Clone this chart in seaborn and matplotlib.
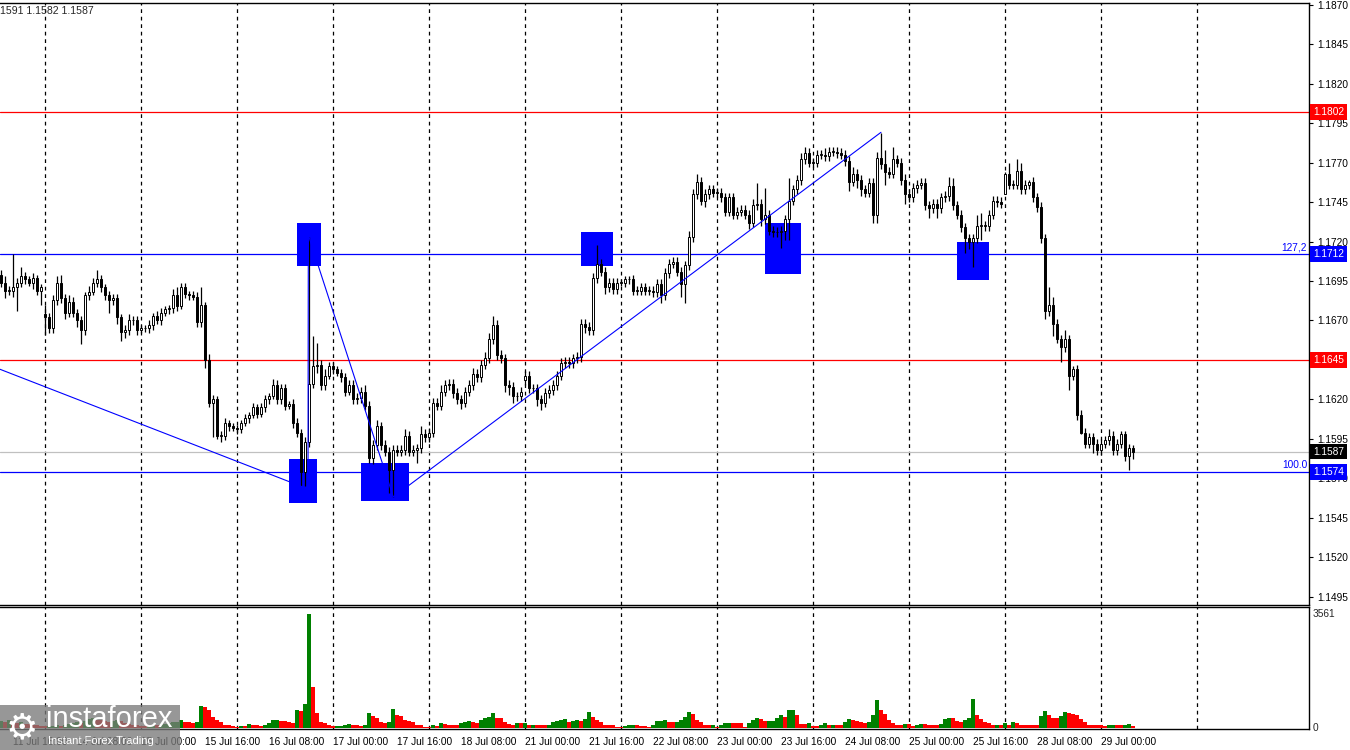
import numpy as np
import pandas as pd
import matplotlib
matplotlib.use("Agg")
import matplotlib.pyplot as plt
import matplotlib.transforms as mtransforms
from matplotlib.patches import Rectangle
import seaborn as sns

# ---------------- data (EUR/USD H1) ----------------
days = ["11 Jul", "14 Jul", "15 Jul", "16 Jul", "17 Jul", "18 Jul", "21 Jul",
        "22 Jul", "23 Jul", "24 Jul", "25 Jul", "28 Jul", "29 Jul"]
first_hour = {"11 Jul": 13}
first_open = 1.1699
gap_opens = {"14 Jul": 1.1674, "21 Jul": 1.1632, "28 Jul": 1.1750}

close_jul11 = [1.1694, 1.1689, 1.1689, 1.1691, 1.1694, 1.1698, 1.1696, 1.1694, 1.1697, 1.1689, 1.1691]
close_jul14 = [1.1672, 1.1665, 1.1683, 1.1694, 1.1684, 1.1675, 1.1682, 1.1675, 1.1670, 1.1664, 1.1686, 1.1688,
               1.1694, 1.1696, 1.1691, 1.1686, 1.1683, 1.1684, 1.1672, 1.1663, 1.1664, 1.1670, 1.1670, 1.1664]
close_jul15 = [1.1665, 1.1665, 1.1667, 1.1673, 1.1670, 1.1675, 1.1677, 1.1678, 1.1686, 1.1679, 1.1691, 1.1687,
               1.1686, 1.1685, 1.1669, 1.1680, 1.1645, 1.1618, 1.1620, 1.1597, 1.1597, 1.1605, 1.1603, 1.1602]
close_jul16 = [1.1601, 1.1605, 1.1608, 1.1610, 1.1615, 1.1611, 1.1615, 1.1620, 1.1622, 1.1629, 1.1620, 1.1627,
               1.1616, 1.1617, 1.1605, 1.1599, 1.1574, 1.1593, 1.1630, 1.1641, 1.1642, 1.1629, 1.1635, 1.1641]
close_jul17 = [1.1639, 1.1637, 1.1634, 1.1625, 1.1629, 1.1620, 1.1621, 1.1625, 1.1616, 1.1583, 1.1591, 1.1603,
               1.1591, 1.1587, 1.1575, 1.1588, 1.1587, 1.1588, 1.1597, 1.1587, 1.1588, 1.1589, 1.1598, 1.1596]
close_jul18 = [1.1599, 1.1618, 1.1616, 1.1625, 1.1629, 1.1630, 1.1624, 1.1620, 1.1618, 1.1625, 1.1629, 1.1636,
               1.1634, 1.1642, 1.1646, 1.1658, 1.1667, 1.1648, 1.1646, 1.1629, 1.1628, 1.1622, 1.1622, 1.1625]
close_jul21 = [1.1635, 1.1627, 1.1627, 1.1620, 1.1618, 1.1624, 1.1626, 1.1629, 1.1635, 1.1643, 1.1644, 1.1643,
               1.1646, 1.1647, 1.1668, 1.1666, 1.1664, 1.1697, 1.1706, 1.1701, 1.1691, 1.1694, 1.1690, 1.1694]
close_jul22 = [1.1694, 1.1696, 1.1696, 1.1689, 1.1689, 1.1691, 1.1689, 1.1689, 1.1688, 1.1693, 1.1686, 1.1700,
               1.1706, 1.1707, 1.1701, 1.1693, 1.1705, 1.1723, 1.1750, 1.1758, 1.1746, 1.1750, 1.1753, 1.1751]
close_jul23 = [1.1751, 1.1748, 1.1739, 1.1748, 1.1737, 1.1739, 1.1740, 1.1737, 1.1732, 1.1743, 1.1744, 1.1734,
               1.1737, 1.1727, 1.1726, 1.1726, 1.1727, 1.1734, 1.1746, 1.1753, 1.1759, 1.1772, 1.1776, 1.1770]
close_jul24 = [1.1770, 1.1775, 1.1775, 1.1774, 1.1777, 1.1777, 1.1776, 1.1775, 1.1771, 1.1758, 1.1763, 1.1759,
               1.1753, 1.1751, 1.1757, 1.1737, 1.1773, 1.1769, 1.1764, 1.1763, 1.1772, 1.1770, 1.1759, 1.1750]
close_jul25 = [1.1748, 1.1754, 1.1756, 1.1757, 1.1743, 1.1741, 1.1744, 1.1741, 1.1748, 1.1749, 1.1755, 1.1743,
               1.1737, 1.1729, 1.1722, 1.1720, 1.1722, 1.1730, 1.1730, 1.1730, 1.1737, 1.1746, 1.1745, 1.1744]
close_jul28 = [1.1763, 1.1756, 1.1756, 1.1765, 1.1753, 1.1756, 1.1758, 1.1748, 1.1742, 1.1722, 1.1676, 1.1680,
               1.1668, 1.1658, 1.1653, 1.1658, 1.1635, 1.1639, 1.1610, 1.1599, 1.1592, 1.1596, 1.1592, 1.1588]
close_jul29 = [1.1592, 1.1594, 1.1597, 1.1588, 1.1592, 1.1598, 1.1584, 1.1589, 1.1587]

# wick lengths in pips above / below the candle body
up_jul11 = [3, 4, 3, 21, 3, 6, 3, 2, 3, 2, 2]
lo_jul11 = [3, 5, 3, 4, 15, 3, 3, 2, 4, 3, 9]
up_jul14 = [6, 3, 3, 4, 5, 3, 4, 3, 2, 3, 2, 4, 3, 6, 3, 2, 3, 3, 3, 2, 3, 4, 3, 3]
lo_jul14 = [11, 3, 3, 3, 3, 4, 3, 3, 4, 9, 3, 3, 2, 3, 3, 3, 8, 3, 4, 6, 4, 3, 3, 3]
up_jul15 = [2, 2, 3, 2, 3, 3, 2, 2, 4, 5, 3, 3, 2, 3, 3, 11, 2, 4, 3, 2, 3, 3, 2, 2]
lo_jul15 = [2, 2, 3, 3, 2, 3, 2, 3, 3, 3, 2, 3, 3, 2, 3, 3, 5, 3, 22, 2, 4, 3, 3, 2]
up_jul16 = [2, 2, 3, 2, 3, 2, 3, 3, 2, 4, 3, 3, 3, 2, 3, 3, 2, 3, 93, 19, 14, 3, 4, 3]
lo_jul16 = [3, 2, 2, 3, 2, 3, 2, 3, 3, 2, 3, 3, 3, 2, 3, 3, 9, 9, 3, 3, 4, 3, 3, 2]
up_jul17 = [3, 2, 2, 3, 3, 3, 3, 3, 4, 3, 3, 4, 3, 3, 3, 3, 3, 3, 4, 3, 3, 3, 5, 3]
lo_jul17 = [3, 2, 3, 3, 2, 3, 3, 3, 3, 3, 4, 3, 3, 3, 14, 17, 3, 3, 3, 3, 3, 8, 3, 3]
up_jul18 = [3, 3, 3, 4, 3, 3, 3, 3, 3, 3, 3, 4, 3, 3, 4, 4, 6, 3, 3, 3, 3, 3, 3, 3]
lo_jul18 = [3, 3, 3, 3, 3, 3, 3, 3, 4, 3, 3, 3, 3, 3, 3, 3, 3, 3, 3, 4, 5, 4, 3, 3]
up_jul21 = [3, 3, 3, 3, 3, 3, 3, 3, 3, 3, 3, 3, 3, 3, 3, 3, 3, 3, 12, 3, 3, 3, 3, 3]
lo_jul21 = [3, 3, 3, 4, 5, 3, 3, 3, 3, 3, 3, 3, 3, 3, 3, 4, 3, 3, 3, 3, 4, 3, 3, 3]
up_jul22 = [2, 2, 2, 3, 3, 3, 3, 3, 3, 3, 3, 3, 3, 3, 3, 3, 3, 4, 3, 5, 3, 3, 3, 3]
lo_jul22 = [2, 3, 3, 3, 3, 3, 3, 3, 3, 3, 5, 3, 3, 3, 3, 8, 12, 3, 3, 3, 3, 4, 3, 3]
up_jul23 = [3, 3, 3, 3, 3, 3, 3, 3, 3, 4, 13, 3, 17, 3, 3, 3, 3, 3, 14, 3, 3, 4, 4, 3]
lo_jul23 = [3, 3, 3, 3, 3, 3, 3, 3, 4, 3, 3, 4, 3, 3, 3, 3, 10, 6, 13, 3, 3, 3, 3, 3]
up_jul24 = [3, 3, 3, 4, 3, 3, 3, 3, 3, 3, 4, 3, 3, 3, 3, 3, 4, 16, 9, 3, 8, 3, 3, 4]
lo_jul24 = [3, 3, 3, 3, 3, 3, 3, 3, 3, 6, 3, 5, 4, 3, 3, 5, 5, 3, 8, 3, 3, 3, 3, 6]
up_jul25 = [3, 3, 3, 3, 3, 3, 3, 3, 3, 3, 6, 5, 3, 3, 3, 3, 3, 7, 8, 3, 3, 3, 3, 3]
lo_jul25 = [3, 3, 3, 3, 3, 6, 3, 6, 3, 3, 3, 3, 3, 3, 9, 5, 16, 3, 9, 3, 3, 3, 3, 3]
up_jul28 = [1, 7, 3, 7, 5, 3, 1, 3, 3, 3, 3, 11, 5, 3, 3, 6, 3, 2, 3, 3, 3, 3, 3, 3]
lo_jul28 = [0, 3, 3, 3, 3, 3, 3, 3, 3, 3, 5, 3, 8, 2, 9, 3, 9, 3, 3, 1, 3, 3, 6, 3]
up_jul29 = [3, 3, 4, 3, 3, 2, 2, 3, 2]
lo_jul29 = [3, 3, 3, 3, 3, 3, 3, 9, 5]

vol_jul11 = [200, 180, 230, 190, 150, 170, 130, 110, 90, 70, 60]
vol_jul14 = [40, 50, 60, 70, 60, 80, 120, 150, 180, 160, 220, 260, 300, 250, 230, 200, 180, 220, 240, 200, 150, 110, 90, 70]
vol_jul15 = [60, 50, 60, 80, 70, 90, 120, 150, 180, 190, 240, 170, 170, 150, 170, 680, 635, 570, 345, 240, 170, 85, 80, 50]
vol_jul16 = [30, 55, 50, 115, 85, 80, 55, 85, 135, 240, 245, 220, 215, 190, 155, 550, 520, 740, 3561, 1280, 470, 170, 135, 85]
vol_jul17 = [50, 55, 60, 85, 115, 85, 80, 55, 85, 460, 375, 290, 190, 155, 190, 580, 395, 365, 240, 220, 170, 85, 80, 30]
vol_jul18 = [30, 85, 50, 135, 130, 95, 95, 95, 135, 185, 220, 185, 155, 240, 310, 345, 470, 310, 290, 185, 105, 100, 135, 135]
vol_jul21 = [140, 75, 95, 95, 75, 73, 95, 175, 220, 240, 270, 175, 220, 240, 220, 260, 490, 345, 240, 175, 95, 93, 92, 30]
vol_jul22 = [30, 52, 73, 95, 73, 52, 50, 20, 95, 220, 225, 240, 175, 175, 178, 240, 345, 490, 425, 240, 175, 95, 73, 95]
vol_jul23 = [30, 73, 135, 145, 135, 135, 134, 30, 135, 240, 290, 260, 220, 222, 225, 290, 395, 345, 550, 552, 395, 115, 113, 135]
vol_jul24 = [52, 50, 95, 135, 73, 95, 73, 72, 175, 260, 240, 220, 165, 163, 175, 395, 865, 550, 425, 240, 155, 85, 83, 115]
vol_jul25 = [113, 52, 73, 115, 115, 83, 82, 81, 115, 270, 300, 300, 220, 175, 240, 300, 895, 395, 280, 190, 135, 73, 95, 94]
vol_jul28 = [135, 83, 175, 135, 83, 82, 81, 80, 79, 365, 520, 395, 320, 318, 365, 500, 470, 425, 395, 260, 175, 83, 82, 73]
vol_jul29 = [72, 52, 95, 97, 73, 72, 95, 115, 52]

closes_by_day = [close_jul11, close_jul14, close_jul15, close_jul16, close_jul17, close_jul18, close_jul21,
                 close_jul22, close_jul23, close_jul24, close_jul25, close_jul28, close_jul29]
ups_by_day = [up_jul11, up_jul14, up_jul15, up_jul16, up_jul17, up_jul18, up_jul21,
              up_jul22, up_jul23, up_jul24, up_jul25, up_jul28, up_jul29]
los_by_day = [lo_jul11, lo_jul14, lo_jul15, lo_jul16, lo_jul17, lo_jul18, lo_jul21,
              lo_jul22, lo_jul23, lo_jul24, lo_jul25, lo_jul28, lo_jul29]
vols_by_day = [vol_jul11, vol_jul14, vol_jul15, vol_jul16, vol_jul17, vol_jul18, vol_jul21,
               vol_jul22, vol_jul23, vol_jul24, vol_jul25, vol_jul28, vol_jul29]

# horizontal levels
level_red = [1.1802, 1.1645]
level_blue = [1.1712, 1.1574]
level_blue_text = ["127,2", "100.0"]
bid_price = 1.1587
header_text = "1591 1.1582 1.1587"

# blue marker boxes (candle index span, price span)
box_x0 = [72.0, 74.1, 90.0, 145.0, 191.0, 239.0]
box_x1 = [79.0, 79.9, 102.0, 152.9, 199.9, 247.0]
box_lo = [1.15544, 1.17047, 1.15558, 1.17047, 1.16994, 1.16956]
box_hi = [1.15823, 1.17315, 1.15799, 1.17260, 1.17319, 1.17199]

# zigzag pivots (candle index, price)
zig_x = [-0.25, 76.75, 76.83, 98.08, 220.0]
zig_y = [1.16391, 1.15633, 1.17241, 1.15582, 1.17892]

# ---------------- build OHLC table ----------------
rows = []
prev_close = first_open
for d, cl, up, lo, vo in zip(days, closes_by_day, ups_by_day, los_by_day, vols_by_day):
    h0 = first_hour.get(d, 0)
    for k, c in enumerate(cl):
        o = gap_opens[d] if (k == 0 and d in gap_opens) else prev_close
        hi = max(o, c) + up[k] / 10000
        lw = min(o, c) - lo[k] / 10000
        rows.append(dict(day=d, hour=h0 + k, open=o, high=hi, low=lw, close=c, vol=vo[k]))
        prev_close = c
df = pd.DataFrame(rows)
df["idx"] = np.arange(len(df))
df["dir"] = np.where(df["vol"].diff().fillna(1) > 0, "up", "down")
n = len(df)

# ---------------- figure ----------------
sns.set_style("white")
plt.rcParams["font.family"] = ["Liberation Sans", "DejaVu Sans"]
FS = 7.3
W, H = 1350, 750
fig = plt.figure(figsize=(13.5, 7.5), dpi=100)
ax_r = 1309 / W
ax = fig.add_axes([0, 1 - 605 / H, ax_r, (605 - 3) / H])
axv = fig.add_axes([0, 1 - 729 / H, ax_r, (729 - 607) / H])

XL = (-0.25, 327.0)
grid_idx = [11 + 24 * k for k in range(13)]

# --- main panel
for g in grid_idx:
    ax.axvline(g, color="black", lw=0.9, ls=(0, (3, 3)), zorder=0.5)
for p in level_red:
    ax.axhline(p, color="#FF0000", lw=0.9, zorder=1)
for p in level_blue:
    ax.axhline(p, color="#0000FF", lw=0.9, zorder=1)
ax.axhline(bid_price, color="#C0C0C0", lw=0.9, zorder=1)

for x0, x1, lo, hi in zip(box_x0, box_x1, box_lo, box_hi):
    ax.add_patch(Rectangle((x0, lo), x1 - x0, hi - lo, facecolor="#0000FF", edgecolor="none", zorder=1.5))

ax.vlines(df["idx"], df["low"], df["high"], color="black", lw=0.9, zorder=2)
body_lo = np.minimum(df["open"], df["close"])
body_h = np.maximum(np.abs(df["close"] - df["open"]), 0.00002)
faces = np.where(df["close"] >= df["open"], "white", "black")
ax.bar(df["idx"], body_h, bottom=body_lo, width=0.72, color=faces, edgecolor="black",
       linewidth=0.7, zorder=3)

ax.plot(zig_x, zig_y, color="#0000FF", lw=0.8, zorder=4)

ax.set_xlim(*XL)
ax.set_ylim(1.14898, 1.18711)
yt = np.round(np.arange(1.1495, 1.18701, 0.0025), 4)
ax.yaxis.tick_right()
ax.set_yticks(yt)
# the tick label hidden under the 1.1645 level box is left blank
ax.set_yticklabels(["" if any(abs(v - p) < 1e-6 for p in level_red) else f"{v:.4f}" for v in yt])
ax.tick_params(axis="y", direction="out", length=3, width=0.8, pad=3, labelsize=FS, colors="black")
ax.set_xticks([])
ax.spines["left"].set_visible(False)
for s in ["top", "right", "bottom"]:
    ax.spines[s].set_color("black")
    ax.spines[s].set_linewidth(1.0)

tr = mtransforms.blended_transform_factory(ax.transAxes, ax.transData)
lab_x = 1.003
box_style = "square,pad=0.28"
for p in level_red:
    ax.text(lab_x, p, f"{p:.4f}", transform=tr, ha="left", va="center", color="white", fontsize=FS,
            bbox=dict(boxstyle=box_style, fc="#FF0000", ec="none"), zorder=10, clip_on=False)
for p, t in zip(level_blue, level_blue_text):
    ax.text(lab_x, p, f"{p:.4f}", transform=tr, ha="left", va="center", color="white", fontsize=FS,
            bbox=dict(boxstyle=box_style, fc="#0000FF", ec="none"), zorder=10, clip_on=False)
    ax.text(0.9985, p + 0.00012, t, transform=tr, ha="right", va="bottom", color="#0000FF", fontsize=FS)
ax.text(lab_x, bid_price, f"{bid_price:.4f}", transform=tr, ha="left", va="center", color="white",
        fontsize=FS, bbox=dict(boxstyle=box_style, fc="black", ec="none"), zorder=10, clip_on=False)

# --- volume panel (seaborn)
for g in grid_idx:
    axv.axvline(g, color="black", lw=0.9, ls=(0, (3, 3)), zorder=0.5)
sns.barplot(data=df, x="idx", y="vol", hue="dir", palette={"up": "#008000", "down": "#FF0000"},
            native_scale=True, dodge=False, width=0.78, errorbar=None, legend=False,
            saturation=1, linewidth=0, ax=axv)
axv.set_xlim(*XL)
axv.set_ylim(-40, 3780)
axv.set_xlabel("")
axv.set_ylabel("")
axv.set_yticks([])
tick_idx = list(range(3, n, 16))
axv.set_xticks(tick_idx)
axv.set_xticklabels([f"{df.loc[i, 'day']} {df.loc[i, 'hour']:02d}:00" for i in tick_idx],
                    ha="left", fontsize=FS)
axv.tick_params(axis="x", direction="out", length=3, width=0.8, pad=3, colors="black")
axv.spines["left"].set_visible(False)
for s in ["top", "right", "bottom"]:
    axv.spines[s].set_color("black")
    axv.spines[s].set_linewidth(1.0)
vmax = int(df["vol"].max())
trv = mtransforms.blended_transform_factory(axv.transAxes, axv.transData)
axv.text(1.003, vmax, str(vmax), transform=trv, ha="left", va="center", fontsize=FS)
axv.text(1.003, 0, "0", transform=trv, ha="left", va="center", fontsize=FS)

# header text
fig.text(0.0, 1 - 14 / H, header_text, fontsize=7.6, ha="left", va="baseline")

# watermark
fig.patches.append(Rectangle((0, 0), 180 / W, 45 / H, transform=fig.transFigure,
                             facecolor="#7a7a7a", alpha=0.78, edgecolor="none", zorder=20))
fig.text(6 / W, 1 - 728 / H, "\u2699", fontsize=26, color="white", ha="left", va="center",
         family="DejaVu Sans", zorder=21)
fig.text(46 / W, 1 - 719 / H, "instaforex", fontsize=21, color="white", ha="left", va="center", zorder=21)
fig.text(48 / W, 1 - 741 / H, "Instant Forex Trading", fontsize=8, color="white", ha="left",
         va="center", zorder=21)

fig.savefig("out.png", dpi=100, facecolor="white")
